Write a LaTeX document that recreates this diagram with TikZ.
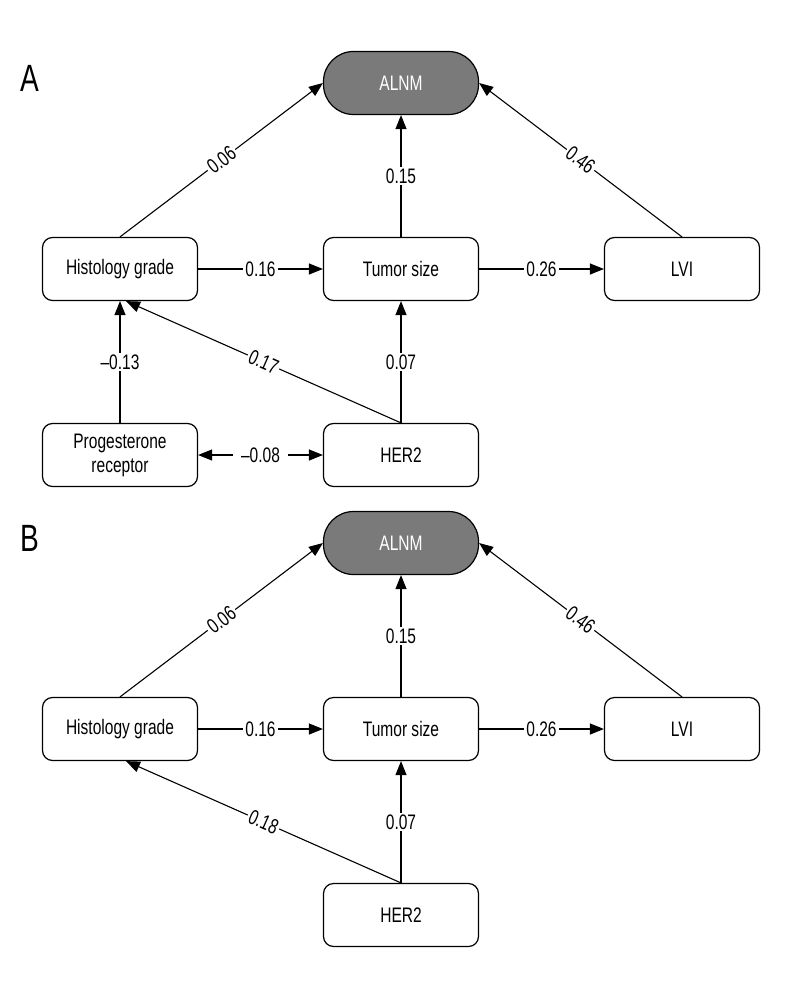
\documentclass[tikz,border=0pt]{standalone}
\usepackage{fontspec}
\setmainfont{Liberation Sans}[FakeStretch=0.74]
\usetikzlibrary{arrows.meta}

\begin{document}
\begin{tikzpicture}[x=0.5pt,y=-0.5pt,
    font=\fontsize{10.5}{12}\selectfont,
    var/.style={draw,line width=0.6pt,rounded corners=5pt,minimum width=77.5pt,
      minimum height=31.5pt,align=center,inner sep=1pt},
    outcome/.style={var,rounded corners=15pt,fill=black!52,text=white},
    effect/.style={-{Triangle[length=7pt,width=5.5pt]},line width=0.55pt},
    twoway/.style={{Triangle[length=7pt,width=5.5pt]}-{Triangle[length=7pt,width=5.5pt]},line width=0.55pt},
    coef/.style={fill=white,inner sep=1pt,midway}]
  \useasboundingbox (0,0) rectangle (800,1000);
  \foreach \p/\dy/\c in {A/0/0.17,B/460/0.18} {
      \node (lab\p) at (30,78+\dy) {\fontsize{19}{22}\selectfont\p};
      \node[outcome] (alnm\p) at (401,83+\dy) {ALNM};
      \node[var] (hist\p) at (120,269+\dy) {Histology grade};
      \node[var] (tumor\p) at (401,269+\dy) {Tumor size};
      \node[var] (lvi\p) at (682,269+\dy) {LVI};
      \node[var] (her\p) at (401,455+\dy) {HER2};
      \draw[effect] (hist\p.north) -- node[coef,sloped] {0.06} (alnm\p.west);
      \draw[effect] (tumor\p) -- node[coef] {0.15} (alnm\p);
      \draw[effect] (lvi\p.north) -- node[coef,sloped] {0.46} (alnm\p.east);
      \draw[effect] (hist\p) -- node[coef] {0.16} (tumor\p);
      \draw[effect] (tumor\p) -- node[coef] {0.26} (lvi\p);
      \draw[effect] (her\p) -- node[coef] {0.07} (tumor\p);
      \draw[effect] (her\p.north) -- node[coef,sloped] {\c} ([xshift=3pt]hist\p.south);
    }
  % progesterone only in A
  \node[var] (prog) at (120,455) {Progesterone\\receptor};
  \draw[effect] (prog) -- node[coef] {--0.13} (histA);
  \draw[twoway] (prog) -- node[coef,inner xsep=4pt] {--0.08} (herA);
\end{tikzpicture}
\end{document}
